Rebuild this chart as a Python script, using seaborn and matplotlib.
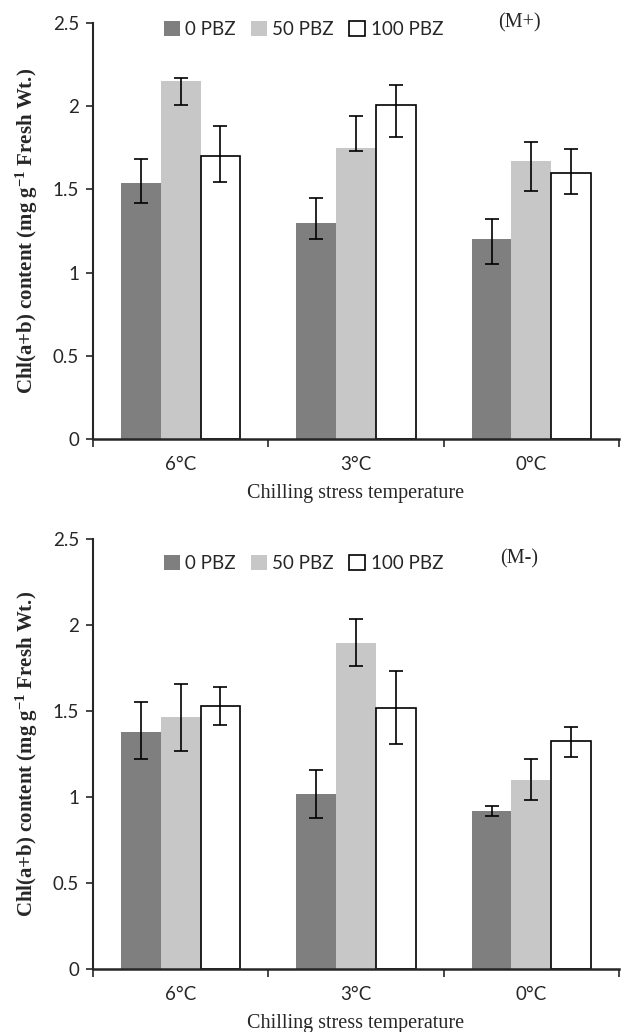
import matplotlib
matplotlib.use("Agg")
import matplotlib.pyplot as plt
from matplotlib.patches import Patch
from matplotlib.container import BarContainer
import seaborn as sns
import pandas as pd

# categories
temps = ["6°C", "3°C", "0°C"]
doses = ["0 PBZ", "50 PBZ", "100 PBZ"]

# (M+) panel: bar heights and error bar ends (low / high)
mplus_0 = [1.54, 1.30, 1.20]
mplus_50 = [2.15, 1.75, 1.67]
mplus_100 = [1.70, 2.01, 1.60]
mplus_0_lo = [1.42, 1.20, 1.05]
mplus_0_hi = [1.68, 1.45, 1.32]
mplus_50_lo = [2.01, 1.73, 1.49]
mplus_50_hi = [2.17, 1.94, 1.785]
mplus_100_lo = [1.545, 1.815, 1.475]
mplus_100_hi = [1.88, 2.13, 1.745]

# (M-) panel
mminus_0 = [1.38, 1.02, 0.92]
mminus_50 = [1.465, 1.895, 1.10]
mminus_100 = [1.53, 1.52, 1.325]
mminus_0_lo = [1.22, 0.88, 0.89]
mminus_0_hi = [1.55, 1.16, 0.95]
mminus_50_lo = [1.27, 1.76, 0.98]
mminus_50_hi = [1.655, 2.035, 1.22]
mminus_100_lo = [1.42, 1.31, 1.23]
mminus_100_hi = [1.64, 1.73, 1.41]

yticks = [0, 0.5, 1, 1.5, 2, 2.5]
ytick_labels = ["0", "0.5", "1", "1.5", "2", "2.5"]

colors = ["#7f7f7f", "#c6c7c6", "#ffffff"]

sns.set_style("ticks")
plt.rcParams["font.family"] = ["Lato", "DejaVu Sans"]
plt.rcParams["mathtext.fontset"] = "custom"
plt.rcParams["mathtext.rm"] = "Liberation Serif:bold"
plt.rcParams["mathtext.default"] = "rm"

fig = plt.figure(figsize=(6.24, 10.32), dpi=100)
ax_top = fig.add_axes([0.149, 0.5746, 0.843, 0.4031])
ax_bot = fig.add_axes([0.149, 0.0610, 0.843, 0.4167])


def draw_panel(ax, vals, lows, highs, tag, leg_y, tag_y):
    df = pd.DataFrame({
        "temp": temps * 3,
        "dose": [d for d in doses for _ in temps],
        "chl": vals[0] + vals[1] + vals[2],
    })
    sns.barplot(data=df, x="temp", y="chl", hue="dose", hue_order=doses,
                order=temps, palette=colors, width=0.68, gap=0,
                errorbar=None, legend=False, saturation=1, ax=ax)

    bar_groups = [c for c in ax.containers if isinstance(c, BarContainer)]
    for i, cont in enumerate(bar_groups):
        for j, bar in enumerate(cont.patches):
            if i == 2:
                bar.set_edgecolor("black")
                bar.set_linewidth(1.2)
            else:
                bar.set_edgecolor("none")
            xc = bar.get_x() + bar.get_width() / 2
            h = bar.get_height()
            ax.errorbar(xc, h, yerr=[[h - lows[i][j]], [highs[i][j] - h]],
                        fmt="none", ecolor="black", elinewidth=1.2,
                        capsize=5, capthick=1.2, zorder=5)

    ax.set_xlim(-0.5, 2.5)
    ax.set_ylim(0, 2.5)
    ax.set_yticks(yticks, ytick_labels)
    ax.set_xticks([0, 1, 2], temps)
    ax.set_xticks([-0.5, 0.5, 1.5, 2.5], minor=True)
    ax.tick_params(axis="x", which="major", length=0, pad=12, labelsize=13.5)
    ax.tick_params(axis="x", which="minor", length=6, width=1.2, direction="out")
    ax.tick_params(axis="y", length=5, width=1.2, pad=5, labelsize=13.5)

    sns.despine(ax=ax)
    ax.spines["left"].set_linewidth(1.5)
    ax.spines["bottom"].set_linewidth(1.8)

    ax.set_xlabel("Chilling stress temperature", family="Liberation Serif",
                  fontsize=14.5, labelpad=8)
    ax.set_ylabel("Chl(a+b) content (mg g$^{-1}$ Fresh Wt.)",
                  family="Liberation Serif", fontweight="bold", fontsize=15,
                  labelpad=9)

    handles = [Patch(facecolor=c, edgecolor=("black" if k == 2 else "none"),
                     linewidth=1.2) for k, c in enumerate(colors)]
    ax.legend(handles, doses, loc="center", bbox_to_anchor=(0.40, leg_y),
              ncol=3, frameon=False, fontsize=13.5, handlelength=0.85,
              handleheight=0.85, handletextpad=0.3, columnspacing=0.8,
              borderaxespad=0)
    ax.text(0.81, tag_y, tag, transform=ax.transAxes, ha="center",
            va="center", family="Liberation Serif", fontsize=14.5)


draw_panel(ax_top,
           [mplus_0, mplus_50, mplus_100],
           [mplus_0_lo, mplus_50_lo, mplus_100_lo],
           [mplus_0_hi, mplus_50_hi, mplus_100_hi],
           "(M+)", 0.985, 1.0)
draw_panel(ax_bot,
           [mminus_0, mminus_50, mminus_100],
           [mminus_0_lo, mminus_50_lo, mminus_100_lo],
           [mminus_0_hi, mminus_50_hi, mminus_100_hi],
           "(M-)", 0.944, 0.955)

fig.savefig("out.png", dpi=100)
